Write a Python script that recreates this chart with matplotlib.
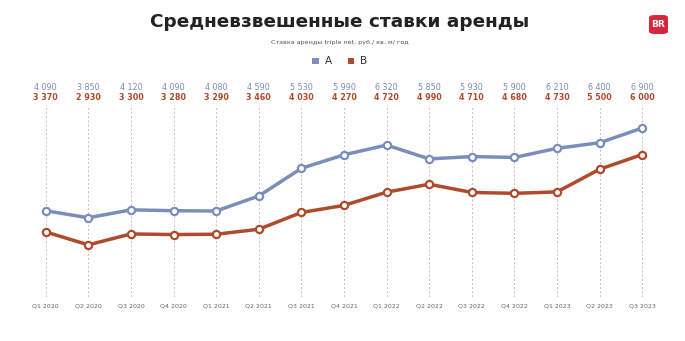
import matplotlib
matplotlib.use("Agg")
import matplotlib.pyplot as plt
from matplotlib.patches import FancyBboxPatch
import matplotlib.transforms as mtransforms

categories = ["Q1 2020", "Q2 2020", "Q3 2020", "Q4 2020", "Q1 2021", "Q2 2021", "Q3 2021",
              "Q4 2021", "Q1 2022", "Q2 2022", "Q3 2022", "Q4 2022", "Q1 2023", "Q2 2023", "Q3 2023"]
series_a = [4090, 3850, 4120, 4090, 4080, 4590, 5530, 5990, 6320, 5850, 5930, 5900, 6210, 6400, 6900]
series_b = [3370, 2930, 3300, 3280, 3290, 3460, 4030, 4270, 4720, 4990, 4710, 4680, 4730, 5500, 6000]

COL_A = "#7B8DBB"
COL_B = "#AF4A2C"

W, H = 685, 341
fig = plt.figure(figsize=(W / 100, H / 100), dpi=100)
fig.patch.set_facecolor("white")

ax_left, ax_right, ax_top, ax_bot = 20, 668, 105, 297
ax = fig.add_axes([ax_left / W, 1 - ax_bot / H, (ax_right - ax_left) / W, (ax_bot - ax_top) / H])
step = (642.3 - 45.7) / 14
ax.set_xlim(-(45.7 - ax_left) / step, 14 + (ax_right - 642.3) / step)
ax.set_ylim(1158, 7682)
for s in ax.spines.values():
    s.set_visible(False)
ax.set_yticks([])
x = list(range(len(categories)))
ax.set_xticks(x)
ax.set_xticklabels(categories, fontsize=4.5, color="#666666")
ax.tick_params(axis="x", length=0, pad=5)

for xi in x:
    ax.axvline(xi, color="#BBBBBB", lw=0.6, ls=(0, (2.5, 2.5)), zorder=0)

for vals, col in [(series_a, COL_A), (series_b, COL_B)]:
    ax.plot(x, vals, color=col, lw=2.5, solid_joinstyle="round", zorder=2)
    ax.plot(x, vals, ls="none", marker="o", ms=5.2, mfc="white", mec=col, mew=1.6, zorder=3)

trans = mtransforms.blended_transform_factory(ax.transData, fig.transFigure)
for xi, a, b in zip(x, series_a, series_b):
    fa = f"{a:,}".replace(",", " ")
    fb = f"{b:,}".replace(",", " ")
    ax.text(xi, 1 - 87 / H, fa, transform=trans, ha="center", va="center", fontsize=5.8, color=COL_A)
    ax.text(xi, 1 - 98 / H, fb, transform=trans, ha="center", va="center", fontsize=5.8, color=COL_B,
            fontweight="bold")

fig.text(340 / W, 1 - 22 / H, "Средневзвешенные ставки аренды", ha="center", va="center",
         fontsize=13.3, fontweight="bold", color="#222222")
fig.text(340 / W, 1 - 42.5 / H, "Ставка аренды triple net, руб./ кв. м/ год", ha="center", va="center",
         fontsize=4.6, color="#555555")

# legend
for sx, tx, col, lab in [(312, 325, COL_A, "A"), (348, 360, COL_B, "B")]:
    fig.patches.append(plt.Rectangle((sx / W, 1 - 64 / H), 6.5 / W, 6.5 / H, transform=fig.transFigure,
                                     facecolor=col, edgecolor="none"))
    fig.text(tx / W, 1 - 60.5 / H, lab, ha="left", va="center", fontsize=7.5, color="#333333")

# logo
fig.patches.append(FancyBboxPatch((649 / W, 1 - 34 / H), 19 / W, 19 / H, transform=fig.transFigure,
                                  boxstyle="round,pad=0,rounding_size=0.008", facecolor="#D9263A",
                                  edgecolor="none"))
fig.text(658.5 / W, 1 - 24.5 / H, "BR", ha="center", va="center", fontsize=6.5, fontweight="bold",
         color="white")

fig.savefig("out.png", dpi=100, facecolor="white")
